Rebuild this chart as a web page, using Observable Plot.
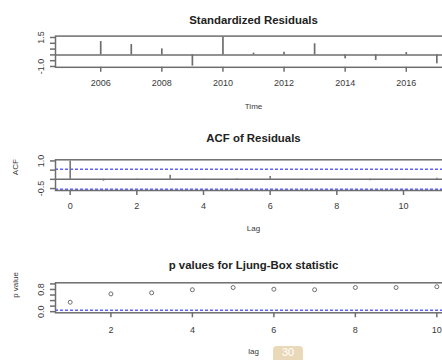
<!DOCTYPE html>
<html><head><meta charset="utf-8">
<script src="https://cdn.jsdelivr.net/npm/d3@7"></script>
<script src="https://cdn.jsdelivr.net/npm/@observablehq/plot@0.6"></script>
<style>
body{margin:0;width:442px;height:360px;overflow:hidden;background:#fff;position:relative;font-family:"Liberation Sans",Arial,sans-serif;}
#charts{width:452px;}
#charts svg{display:block;max-width:none !important;width:452px !important;height:120px !important;}
.badge{position:absolute;left:273px;top:346px;width:30px;height:16px;background:#ead9b9;border-radius:4px;color:#fff;font:11px "Liberation Sans",Arial,sans-serif;text-align:center;line-height:13px;}
</style></head><body><div id="charts"></div><div class="badge">30</div>
<script>
// Panel 1: standardized residuals
const resYears = [2005, 2006, 2007, 2008, 2009, 2010, 2011, 2012, 2013, 2014, 2015, 2016, 2017];
const resValues = [0.0, 1.15, 0.9, 0.52, -0.97, 1.52, 0.15, 0.23, 0.96, -0.34, -0.48, 0.2, -0.77];
const resXTicks = [2006, 2008, 2010, 2012, 2014, 2016];
const resYTicks = [-1.0, -0.5, 0, 0.5, 1.0, 1.5];
const resYLabelled = [-1.0, 1.5];
// Panel 2: ACF of residuals
const acfLags = [0, 1, 2, 3, 4, 5, 6, 7, 8, 9, 10, 11];
const acfValues = [1, -0.1, -0.02, 0.22, -0.05, 0.03, 0.16, -0.05, 0.01, -0.07, -0.04, 0.06];
const acfBound = [0.544, -0.544];
const acfXTicks = [0, 2, 4, 6, 8, 10];
const acfYTicks = [-0.5, 0, 0.5, 1.0];
const acfYLabelled = [-0.5, 1.0];
// Panel 3: Ljung-Box p values
const lbLags = [1, 2, 3, 4, 5, 6, 7, 8, 9, 10];
const lbValues = [0.34, 0.64, 0.68, 0.79, 0.87, 0.81, 0.79, 0.87, 0.87, 0.90];
const lbLevel = [0.05];
const lbXTicks = [2, 4, 6, 8, 10];
const lbYTicks = [0, 0.2, 0.4, 0.6, 0.8, 1.0];
const lbYLabelled = [0, 0.8];

const LINE = "#6e6e6e";
const TEXT = "#3a3a3a";
const BLUE = "#6060ff";

function panel(o) {
  return Plot.plot({
    width: 452, height: 120,
    marginLeft: 55, marginRight: 1, marginTop: o.mt, marginBottom: o.mb,
    x: {domain: o.xDomain},
    y: {domain: o.yDomain},
    style: {fontFamily: '"Liberation Sans", Arial, sans-serif', fontSize: "9px", color: TEXT, background: "#fff", maxWidth: "none"},
    marks: [
      ...o.marks,
      Plot.frame({stroke: LINE, strokeWidth: 1.5}),
      Plot.axisX({ticks: o.xTicks, tickSize: 5, tickPadding: o.xPad, tickFormat: d => String(d), stroke: LINE, strokeWidth: 1.5, fill: TEXT}),
      Plot.axisY({ticks: o.yTicks, tickSize: 5, tickPadding: 7, tickRotate: -90, stroke: LINE, strokeWidth: 1.5, fill: TEXT,
        tickFormat: d => o.yLab.some(v => Math.abs(v - d) < 1e-9) ? d.toFixed(1) : ""}),
      Plot.text([o.title], {frameAnchor: "top", dy: o.titleDy, fontWeight: "bold", fontSize: 11.4, fill: "#222"}),
      Plot.text([o.xLabel], {frameAnchor: "bottom", dy: o.xLabDy, fontSize: 8, fill: TEXT}),
      ...(o.yLabel ? [Plot.text([o.yLabel], {frameAnchor: "left", dx: -40, rotate: -90, fontSize: 8, fill: TEXT})] : [])
    ]
  });
}

const charts = document.getElementById("charts");

charts.append(panel({
  mt: 35.6, mb: 53.2,
  xDomain: [2004.52, 2017.48], yDomain: [-1.07, 1.62],
  xTicks: resXTicks, yTicks: resYTicks, yLab: resYLabelled, xPad: 7,
  title: "Standardized Residuals", titleDy: -20.6, xLabel: "Time", xLabDy: 41.2,
  marks: [
    Plot.ruleY([0], {stroke: LINE, strokeWidth: 1.5}),
    Plot.ruleX(resYears, {x: d => d, y1: 0, y2: (d, i) => resValues[i], stroke: LINE, strokeWidth: 1.7})
  ]
}));

charts.append(panel({
  mt: 39.3, mb: 50,
  xDomain: [-0.44, 11.44], yDomain: [-0.606, 1.062],
  xTicks: acfXTicks, yTicks: acfYTicks, yLab: acfYLabelled, xPad: 7,
  title: "ACF of Residuals", titleDy: -26.3, xLabel: "Lag", xLabDy: 40, yLabel: "ACF",
  marks: [
    Plot.ruleY([0], {stroke: LINE, strokeWidth: 1.5}),
    Plot.ruleY(acfBound, {stroke: BLUE, strokeWidth: 1.5, strokeDasharray: "3,2"}),
    Plot.ruleX(acfLags, {x: d => d, y1: 0, y2: (d, i) => acfValues[i], stroke: LINE, strokeWidth: 1.5})
  ]
}));

charts.append(panel({
  mt: 42.3, mb: 47.7,
  xDomain: [0.64, 10.36], yDomain: [-0.04, 1.04],
  xTicks: lbXTicks, yTicks: lbYTicks, yLab: lbYLabelled, xPad: 9,
  title: "p values for Ljung-Box statistic", titleDy: -21.6, xLabel: "lag", xLabDy: 40.7, yLabel: "p value",
  marks: [
    Plot.ruleY(lbLevel, {stroke: BLUE, strokeWidth: 1.5, strokeDasharray: "3,2"}),
    Plot.dot(lbLags, {x: d => d, y: (d, i) => lbValues[i], r: 2, stroke: LINE, strokeWidth: 1, fill: "none"})
  ]
}));
</script></body></html>
